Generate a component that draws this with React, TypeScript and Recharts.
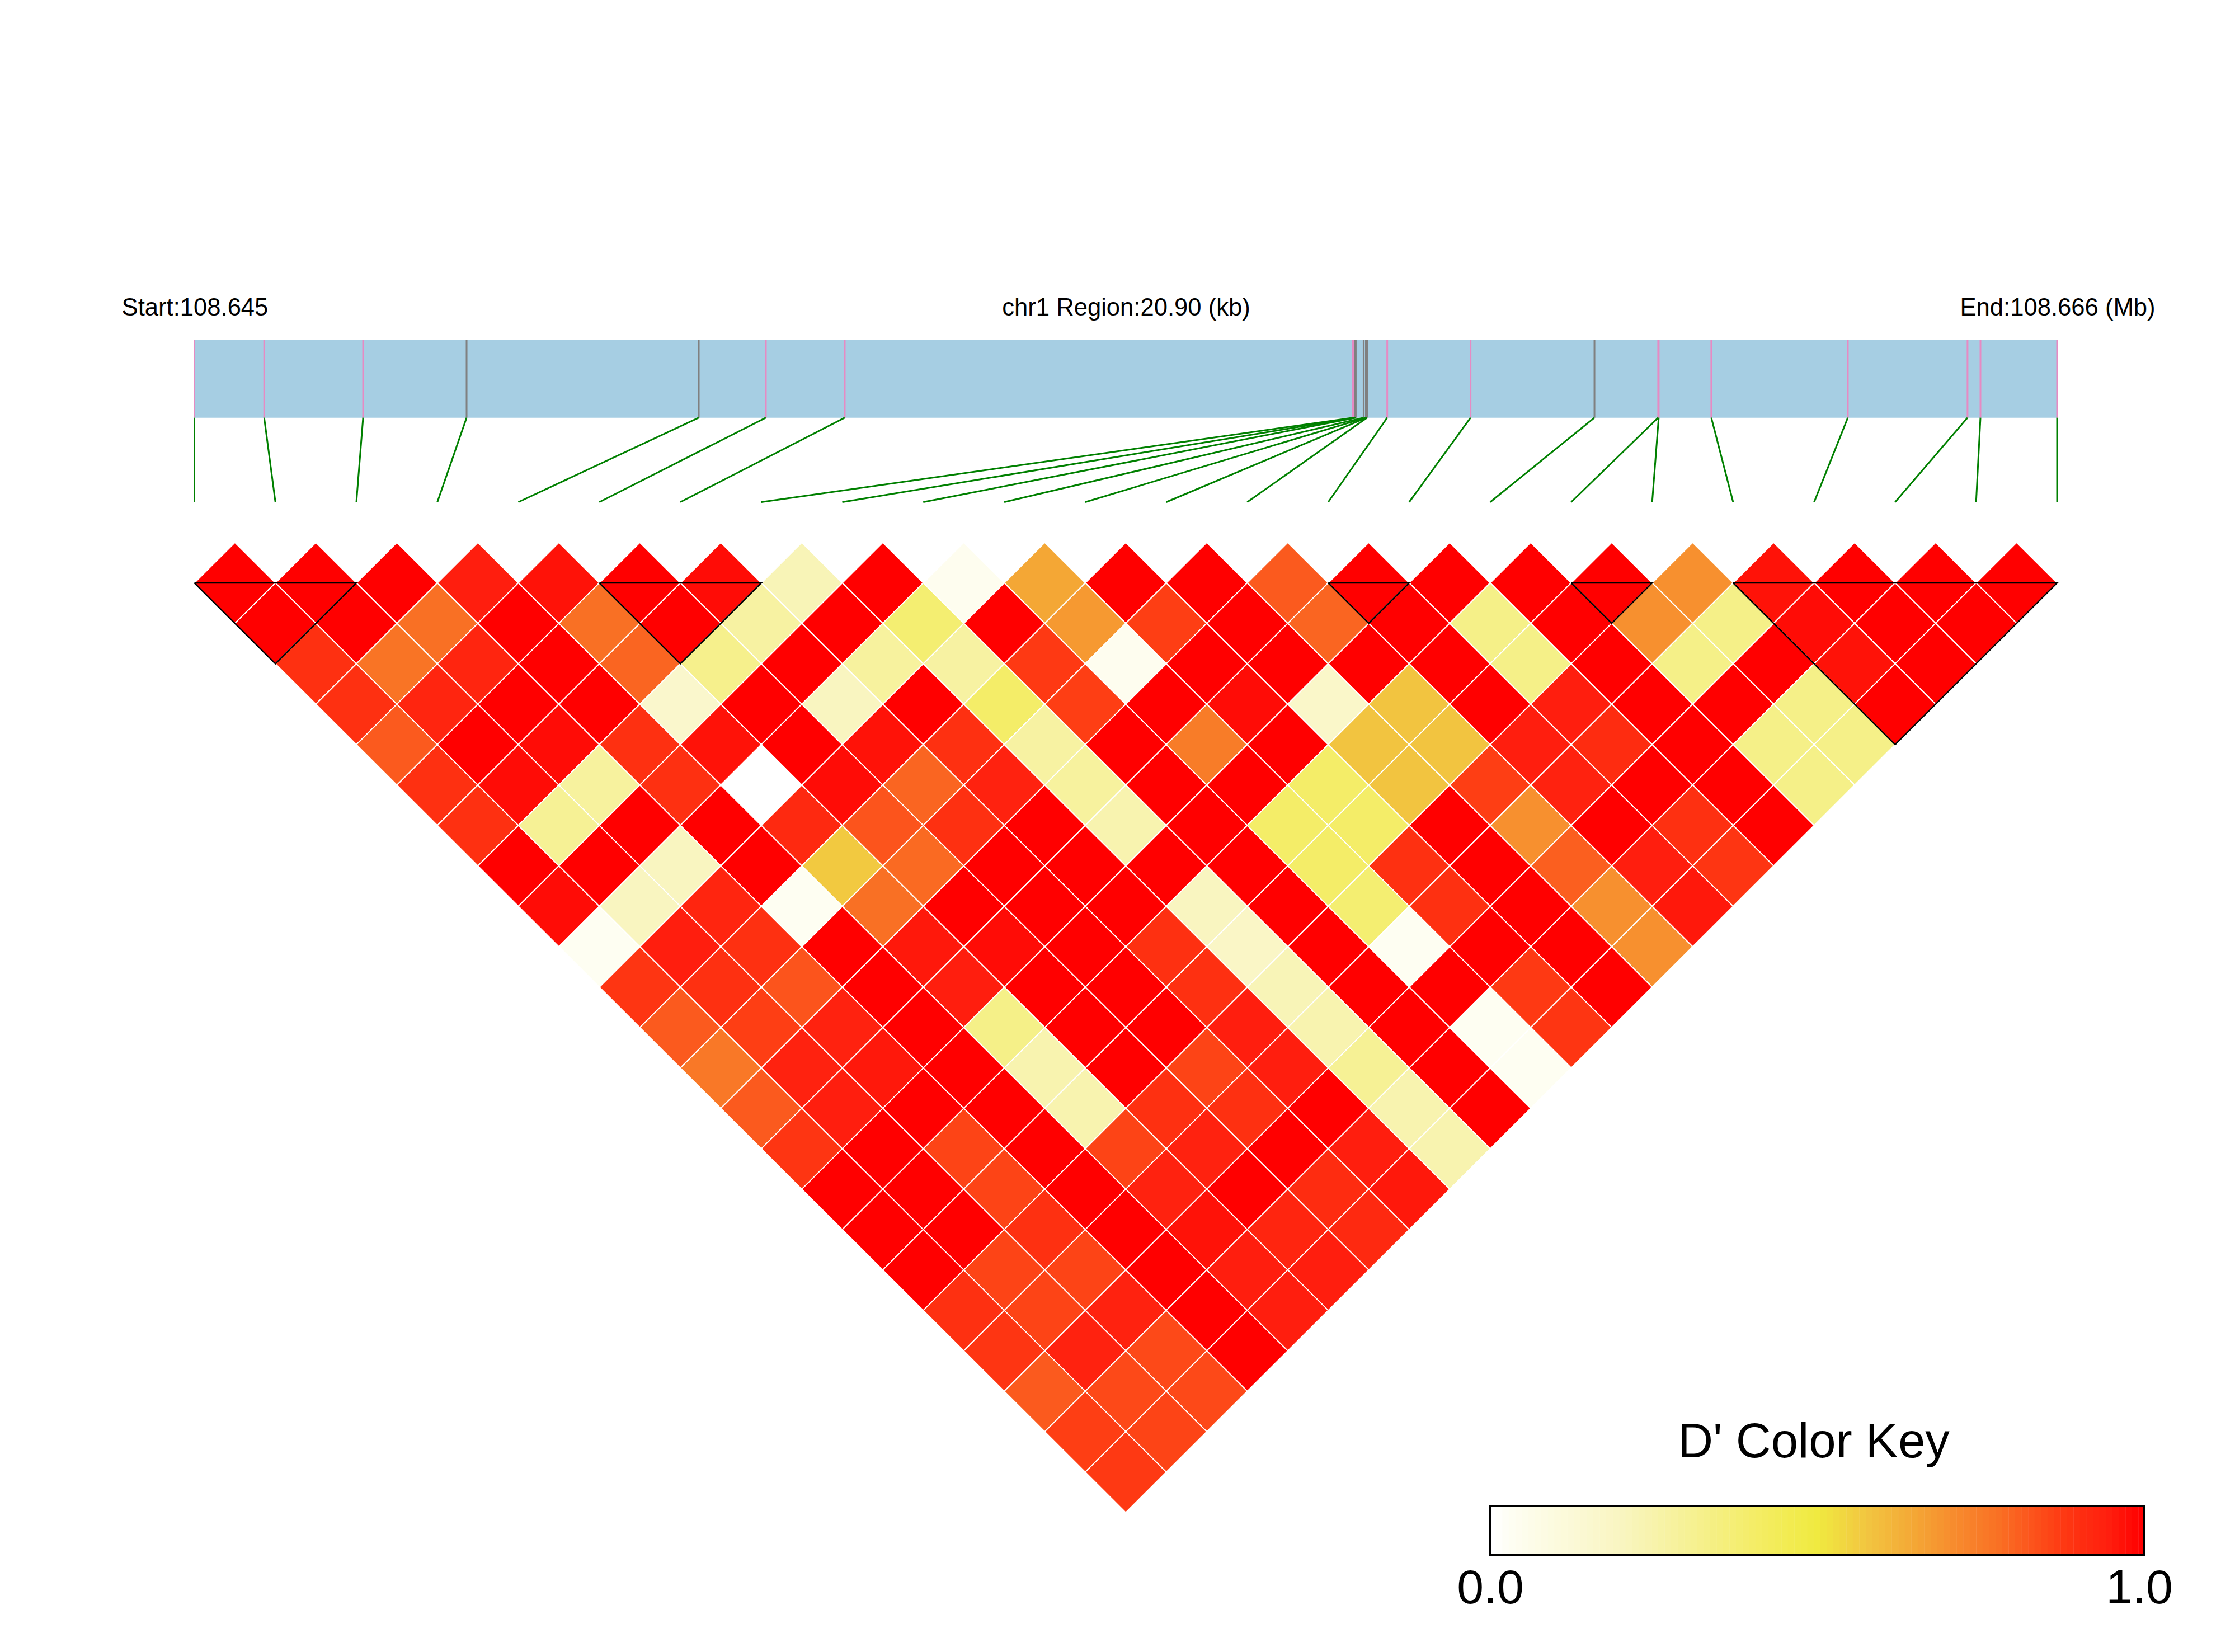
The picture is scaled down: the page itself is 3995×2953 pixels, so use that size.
import React from 'react';
import { Bar, BarChart, Cell, ReferenceArea, ReferenceLine, Scatter, ScatterChart, XAxis, YAxis } from 'recharts';

const REGION_KB = 20.9;
const SNP_COUNT = 24;

// SNP positions along the region, kb from the start
const snpKb = [
  0, 0.783, 1.893, 3.054, 5.659, 6.412, 7.297, 13.0, 13.019, 13.031, 13.119, 13.144,
  13.151, 13.157, 13.384, 14.319, 15.709, 16.424, 16.43, 17.02, 18.552, 19.895, 20.04, 20.9,
];
// 1 = drawn grey in the track, 0 = pink
const snpGrey = [0, 0, 0, 1, 1, 0, 0, 0, 1, 1, 1, 1, 1, 1, 0, 0, 1, 0, 0, 0, 0, 0, 0, 0];

// D' by distance between SNPs: dPrime[d][k] is the pair (k, k + d + 1)
const dPrime = [
  [1, 1, 1, 0.95, 0.97, 1, 0.98, 0.22, 1, 0.04, 0.65, 1, 1, 0.82, 1, 1, 1, 1, 0.7, 0.97, 1, 1, 1],
  [1, 1, 0.78, 1, 0.78, 1, 0.27, 1, 0.38, 1, 0.68, 0.87, 1, 0.8, 1, 0.33, 1, 0.7, 0.33, 0.98, 1, 1],
  [0.9, 0.77, 0.93, 1, 0.8, 0.32, 1, 0.28, 0.27, 0.88, 0.04, 1, 1, 1, 1, 0.33, 1, 0.33, 1, 0.97, 1],
  [0.9, 0.93, 1, 1, 0.16, 1, 0.2, 1, 0.4, 0.87, 1, 0.98, 0.17, 0.58, 1, 0.95, 1, 1, 0.33, 1],
  [0.82, 1, 0.98, 0.9, 0.97, 1, 0.97, 0.9, 0.27, 1, 0.75, 1, 0.58, 0.58, 0.95, 0.91, 1, 0.33, 0.33],
  [0.9, 0.98, 0.28, 0.9, 0, 0.98, 0.8, 0.94, 0.28, 1, 1, 0.4, 0.58, 0.87, 0.94, 1, 1, 0.33],
  [0.9, 0.3, 1, 1, 0.92, 0.83, 0.9, 1, 0.24, 1, 0.4, 0.4, 1, 0.7, 1, 0.9, 1],
  [1, 1, 0.2, 1, 0.57, 0.79, 1, 1, 1, 1, 0.4, 0.9, 1, 0.81, 0.95, 0.89],
  [0.98, 0.2, 0.93, 0.03, 0.78, 1, 1, 1, 0.2, 1, 0.38, 0.9, 1, 0.7, 0.96],
  [0.03, 0.95, 0.9, 1, 0.96, 0.98, 1, 0.9, 0.18, 1, 0.03, 1, 1, 0.7],
  [0.89, 0.9, 0.83, 1, 0.95, 1, 1, 0.9, 0.22, 1, 1, 0.88, 1],
  [0.82, 0.87, 0.94, 1, 0.33, 1, 1, 0.95, 0.24, 1, 0.03, 0.89],
  [0.76, 0.94, 0.96, 1, 0.24, 1, 0.86, 0.95, 0.3, 1, 0.03],
  [0.82, 0.95, 1, 1, 0.24, 0.9, 0.9, 1, 0.24, 1],
  [0.89, 1, 0.86, 1, 0.86, 0.94, 1, 0.95, 0.24],
  [1, 1, 0.86, 1, 0.94, 1, 0.91, 0.96],
  [1, 1, 0.9, 1, 0.97, 0.93, 0.92],
  [1, 0.86, 0.86, 1, 0.95, 0.95],
  [0.9, 0.86, 0.94, 1, 0.95],
  [0.89, 0.94, 0.85, 1],
  [0.82, 0.85, 0.85],
  [0.87, 0.86],
  [0.88],
];

// haplotype blocks as first and last SNP
const blocks = [
  [0, 2],
  [5, 7],
  [14, 15],
  [17, 18],
  [19, 23],
];

const keySteps = [
  0, 0.01, 0.02, 0.03, 0.04, 0.05, 0.06, 0.07, 0.08, 0.09, 0.1, 0.11, 0.12, 0.13, 0.14, 0.15, 0.16, 0.17, 0.18, 0.19,
  0.2, 0.21, 0.22, 0.23, 0.24, 0.25, 0.26, 0.27, 0.28, 0.29, 0.3, 0.31, 0.32, 0.33, 0.34, 0.35, 0.36, 0.37, 0.38, 0.39,
  0.4, 0.41, 0.42, 0.43, 0.44, 0.45, 0.46, 0.47, 0.48, 0.49, 0.5, 0.51, 0.52, 0.53, 0.54, 0.55, 0.56, 0.57, 0.58, 0.59,
  0.6, 0.61, 0.62, 0.63, 0.64, 0.65, 0.66, 0.67, 0.68, 0.69, 0.7, 0.71, 0.72, 0.73, 0.74, 0.75, 0.76, 0.77, 0.78, 0.79,
  0.8, 0.81, 0.82, 0.83, 0.84, 0.85, 0.86, 0.87, 0.88, 0.89, 0.9, 0.91, 0.92, 0.93, 0.94, 0.95, 0.96, 0.97, 0.98, 0.99, 1,
];

const COLOR_STOPS: [number, number[]][] = [
  [0, [255, 255, 255]],
  [0.03, [254, 254, 242]],
  [0.2, [249, 245, 192]],
  [0.3, [246, 241, 149]],
  [0.4, [244, 237, 104]],
  [0.5, [240, 234, 64]],
  [0.58, [242, 196, 64]],
  [0.65, [244, 167, 53]],
  [0.7, [247, 144, 47]],
  [0.78, [249, 112, 36]],
  [0.82, [251, 90, 30]],
  [0.87, [254, 62, 20]],
  [0.9, [254, 48, 17]],
  [0.95, [255, 30, 14]],
  [1, [255, 0, 0]],
];

const ldColor = (v: number) => {
  for (let i = 1; i < COLOR_STOPS.length; i++) {
    const [v0, c0] = COLOR_STOPS[i - 1];
    const [v1, c1] = COLOR_STOPS[i];
    if (v <= v1) {
      const t = (v - v0) / (v1 - v0);
      const c = c0.map((ch, n) => Math.round(ch + (c1[n] - ch) * t));
      return `rgb(${c[0]},${c[1]},${c[2]})`;
    }
  }
  return 'rgb(255,0,0)';
};

const W = 3995;
const H = 2953;
const MARGIN = { left: 347.5, right: 318, top: 607.3, bottom: 249.4 };
const ROW_TOP = -6.017;
const ROW_BOTTOM = 23;
const HALF_W = (W - MARGIN.left - MARGIN.right) / (SNP_COUNT - 1) / 2;
const HALF_H = (H - MARGIN.top - MARGIN.bottom) / (ROW_BOTTOM - ROW_TOP);
const TRACK_BOTTOM = -4.088;
const CONNECTOR_BOTTOM = -2;

const cells = dPrime.flatMap((row, d) =>
  row.map((v, k) => ({ x: k + (d + 1) / 2, y: d, v })),
);

const Diamond = (props: any) => {
  const { cx, cy, payload } = props;
  const points = `${cx},${cy - HALF_H} ${cx + HALF_W},${cy} ${cx},${cy + HALF_H} ${cx - HALF_W},${cy}`;
  return <polygon points={points} fill={ldColor(payload.v)} stroke="#ffffff" strokeWidth={2} />;
};

const NoPoint = () => <g />;

const FONT = '"Liberation Sans", Arial, sans-serif';

export default function App() {
  return (
    <div style={{ position: 'absolute', left: 0, top: 0, width: W, height: H, background: '#fff', overflow: 'hidden' }}>
      <ScatterChart width={W} height={H} margin={MARGIN}>
        <XAxis xAxisId="snp" dataKey="x" type="number" domain={[0, SNP_COUNT - 1]} hide />
        <XAxis xAxisId="kb" dataKey="x" type="number" domain={[0, REGION_KB]} hide />
        <YAxis dataKey="y" type="number" domain={[ROW_TOP, ROW_BOTTOM]} reversed hide />

        <Scatter
          xAxisId="kb"
          data={snpKb.map((kb) => ({ x: kb, y: TRACK_BOTTOM }))}
          shape={NoPoint}
          isAnimationActive={false}
        />
        <ReferenceArea
          xAxisId="kb"
          x1={0}
          x2={REGION_KB}
          y1={ROW_TOP}
          y2={TRACK_BOTTOM}
          fill="#a6cee3"
          fillOpacity={1}
          stroke="none"
          ifOverflow="visible"
        />
        {snpKb.map((kb, i) => (
          <ReferenceLine
            key={`tick-${i}`}
            xAxisId="kb"
            segment={[{ x: kb, y: ROW_TOP }, { x: kb, y: TRACK_BOTTOM }]}
            stroke={snpGrey[i] ? '#808080' : '#e78ac3'}
            strokeWidth={3}
            ifOverflow="visible"
          />
        ))}
        {snpKb.map((kb, i) => (
          <ReferenceLine
            key={`link-${i}`}
            xAxisId="kb"
            segment={[
              { x: kb, y: TRACK_BOTTOM },
              { x: (i * REGION_KB) / (SNP_COUNT - 1), y: CONNECTOR_BOTTOM },
            ]}
            stroke="#008000"
            strokeWidth={3}
            ifOverflow="visible"
          />
        ))}

        <Scatter xAxisId="snp" data={cells} shape={Diamond} isAnimationActive={false} />
        {blocks.map(([a, b]) => (
          <Scatter
            key={`block-${a}`}
            xAxisId="snp"
            data={[
              { x: a, y: 0 },
              { x: b, y: 0 },
              { x: (a + b) / 2, y: b - a },
              { x: a, y: 0 },
            ]}
            line={{ stroke: '#000000', strokeWidth: 2.5 }}
            lineType="joint"
            shape={NoPoint}
            isAnimationActive={false}
          />
        ))}

        <text x={348.5} y={564} textAnchor="middle" fontFamily={FONT} fontSize={43.6} fill="#000">Start:108.645</text>
        <text x={2013} y={564} textAnchor="middle" fontFamily={FONT} fontSize={43.6} fill="#000">chr1 Region:20.90 (kb)</text>
        <text x={3678} y={564} textAnchor="middle" fontFamily={FONT} fontSize={43.6} fill="#000">End:108.666 (Mb)</text>
        <text x={3242} y={2605} textAnchor="middle" fontFamily={FONT} fontSize={87} fill="#000">D' Color Key</text>
        <text x={2664} y={2866} textAnchor="middle" fontFamily={FONT} fontSize={86} fill="#000">0.0</text>
        <text x={3824} y={2866} textAnchor="middle" fontFamily={FONT} fontSize={86} fill="#000">1.0</text>
      </ScatterChart>

      <div style={{ position: 'absolute', left: 2662, top: 2691, width: 1172, height: 90 }}>
        <BarChart
          width={1172}
          height={90}
          data={keySteps.map((v) => ({ v, full: 1 }))}
          margin={{ left: 0, right: 0, top: 0, bottom: 0 }}
          barCategoryGap={0}
        >
          <XAxis dataKey="v" hide />
          <YAxis domain={[0, 1]} hide />
          <Bar dataKey="full" isAnimationActive={false}>
            {keySteps.map((v) => (
              <Cell key={v} fill={ldColor(v)} />
            ))}
          </Bar>
        </BarChart>
        <div style={{ position: 'absolute', inset: 0, border: '3px solid #000', boxSizing: 'border-box' }} />
      </div>
    </div>
  );
}
